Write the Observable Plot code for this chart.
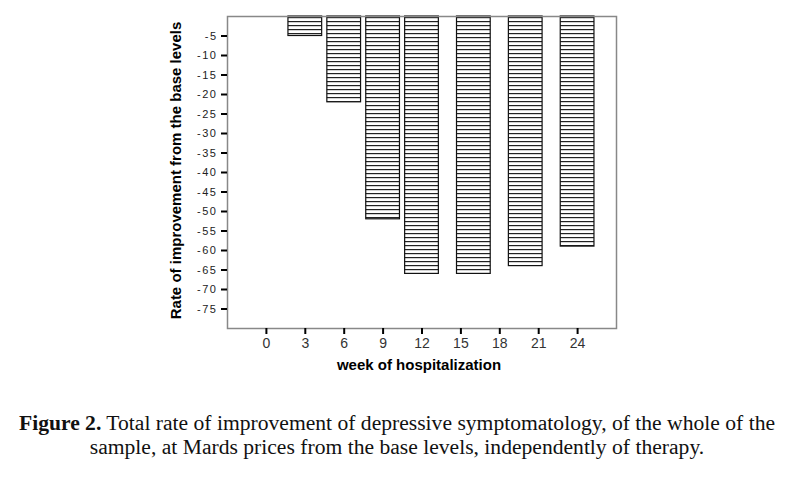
<!DOCTYPE html>
<html>
<head>
<meta charset="utf-8">
<script src="https://cdn.jsdelivr.net/npm/d3@7"></script>
<script src="https://cdn.jsdelivr.net/npm/@observablehq/plot@0.6"></script>
<style>
  html, body { margin: 0; padding: 0; background: #fff; }
  #chart { width: 794px; }
  #caption {
    width: 794px;
    margin-top: 19px;
    text-align: center;
    font-family: "Liberation Serif", "Times New Roman", serif;
    font-size: 21.6px;
    line-height: 24px;
    color: #111;
  }
  #caption b { font-weight: bold; }
</style>
</head>
<body>
<div id="chart"></div>
<div id="caption"><b>Figure 2.</b> Total rate of improvement of depressive symptomatology, of the whole of the<br>sample, at Mards prices from the base levels, independently of therapy.</div>
<script>
// ---- data ----
const weeks = [3, 6, 9, 12, 16, 20, 24];
const rates = [-5, -22, -52, -66, -66, -64, -59];
const xTicks = [0, 3, 6, 9, 12, 15, 18, 21, 24];
const yTicks = [-5, -10, -15, -20, -25, -30, -35, -40, -45, -50, -55, -60, -65, -70, -75];
const xLabel = "week of hospitalization";
const yLabel = "Rate of improvement from the base levels";

const data = weeks.map((w, i) => ({week: w, rate: rates[i]}));
const halfWidth = 1.3;

const chart = Plot.plot({
  width: 794,
  height: 392,
  marginLeft: 227,
  marginRight: 178,
  marginTop: 16,
  marginBottom: 64,
  style: {fontFamily: "'Liberation Sans', Arial, sans-serif", fontSize: "10px", background: "white", color: "#111"},
  x: {domain: [-3, 27]},
  y: {domain: [-80, 0]},
  marks: [
    Plot.rect(data, {
      x1: d => d.week - halfWidth,
      x2: d => d.week + halfWidth,
      y1: 0,
      y2: "rate",
      fill: "url(#hstripes)",
      stroke: "#111",
      strokeWidth: 1.2
    }),
    Plot.frame({stroke: "#888", strokeWidth: 1.5}),
    Plot.axisY({ticks: yTicks, tickSize: 6, tickPadding: 4, strokeWidth: 2, stroke: "#000",
      tickFormat: d => String(d), fontSize: 11, fill: "#222", label: null}),
    Plot.axisX({ticks: xTicks, tickSize: 6, tickPadding: 4, strokeWidth: 2, stroke: "#000",
      tickFormat: d => String(d), fontSize: 14, fill: "#333", label: null}),
    Plot.text([xLabel], {frameAnchor: "bottom", dy: 37, dx: -3, text: d => d,
      fontWeight: "bold", fontSize: 15, lineAnchor: "middle", fill: "#000"}),
    Plot.text([yLabel], {frameAnchor: "left", dx: -51, dy: -2, rotate: -90, text: d => d,
      fontWeight: "bold", fontSize: 15, lineAnchor: "middle", textAnchor: "middle", fill: "#000"})
  ]
});

// letter spacing for the y tick labels (SPSS-like spacing)
chart.querySelectorAll("g[aria-label='y-axis tick label'] text").forEach(t => t.setAttribute("letter-spacing", "1.5"));

// striped pattern for the bars
const ns = "http://www.w3.org/2000/svg";
const defs = document.createElementNS(ns, "defs");
const pat = document.createElementNS(ns, "pattern");
pat.setAttribute("id", "hstripes");
pat.setAttribute("patternUnits", "userSpaceOnUse");
pat.setAttribute("width", "8");
pat.setAttribute("height", "4");
const bg = document.createElementNS(ns, "rect");
bg.setAttribute("width", "8"); bg.setAttribute("height", "4"); bg.setAttribute("fill", "#fff");
const ln = document.createElementNS(ns, "rect");
ln.setAttribute("y", "1"); ln.setAttribute("width", "8"); ln.setAttribute("height", "1.2"); ln.setAttribute("fill", "#222");
pat.appendChild(bg); pat.appendChild(ln);
defs.appendChild(pat);
chart.insertBefore(defs, chart.firstChild);

document.getElementById("chart").appendChild(chart);
</script>
</body>
</html>
